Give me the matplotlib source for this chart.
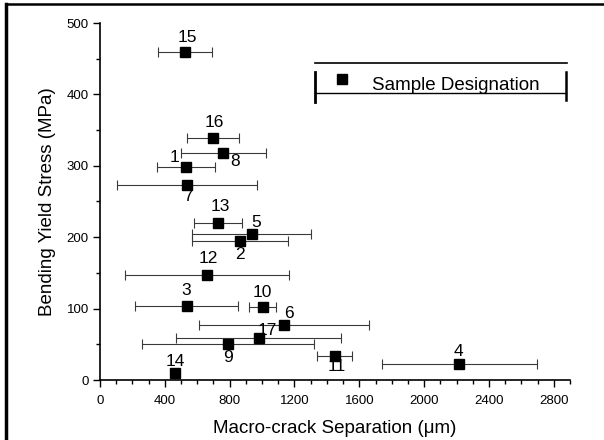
import matplotlib
matplotlib.use('Agg')
import matplotlib.pyplot as plt
from matplotlib.lines import Line2D
from matplotlib.ticker import MultipleLocator

plt.rcParams['font.family'] = ['Liberation Sans', 'DejaVu Sans']

# Sample data
samples = ['15', '16', '8', '1', '7', '13', '5', '2', '12', '3',
           '10', '6', '17', '9', '11', '4', '14']
separation = [524, 697, 762, 530, 537, 728, 935, 864, 660, 534,
              1003, 1135, 978, 790, 1447, 2218, 463]
sep_err = [167, 160, 262, 180, 430, 151, 367, 296, 506, 318,
           83, 525, 509, 530, 108, 478, 0]
stress = [459, 339, 318, 298, 273, 220, 204, 195, 147, 104,
          102, 77, 59, 50, 34, 22, 10]

# label offsets (pixels) from each marker
label_off = {'15': (2, 15), '16': (1, 15), '8': (12, -9), '1': (-11, 10),
             '7': (1, -11), '13': (2, 16), '5': (5, 12), '2': (0, -14),
             '12': (1, 17), '3': (0, 15), '10': (0, 15), '6': (5, 12),
             '17': (9, 7), '9': (0, -13), '11': (2, -11), '4': (-1, 13),
             '14': (0, 11)}

fig = plt.figure(figsize=(6.04, 4.40), dpi=100)
ax = fig.add_axes([100/604, 1 - 380/440, 470/604, 357/440])

for i, s in enumerate(samples):
    if sep_err[i] > 0:
        ax.errorbar(separation[i], stress[i], xerr=sep_err[i], fmt='none',
                    ecolor='#3a3a3a', elinewidth=0.8, capsize=3.5, capthick=0.8)
ax.plot(separation, stress, 's', color='black', markersize=7, zorder=3)

for i, s in enumerate(samples):
    ax.annotate(s, (separation[i], stress[i]), xytext=label_off[s],
                textcoords='offset pixels', ha='center', va='center',
                fontsize=12.5, color='black')

ax.set_xlim(0, 2900)
ax.set_ylim(0, 500)
ax.xaxis.set_major_locator(MultipleLocator(400))
ax.xaxis.set_minor_locator(MultipleLocator(100))
ax.yaxis.set_major_locator(MultipleLocator(100))
ax.yaxis.set_minor_locator(MultipleLocator(50))
ax.tick_params(which='major', direction='out', length=5, width=1, labelsize=9.5)
ax.tick_params(axis='x', which='major', pad=6)
ax.tick_params(axis='y', which='major', pad=3)
ax.tick_params(which='minor', direction='out', length=3, width=1)
ax.spines['top'].set_visible(False)
ax.spines['right'].set_visible(False)
ax.spines['left'].set_linewidth(1.2)
ax.spines['bottom'].set_linewidth(1.2)

ax.set_xlabel('Macro-crack Separation (μm)', fontsize=13.5, labelpad=9)
ax.set_ylabel('Bending Yield Stress (MPa)', fontsize=13.5, labelpad=8)

# legend box as scanned
tr = ax.transAxes
ax.add_line(Line2D([0.457, 0.994], [0.888, 0.888], transform=tr, color='black', lw=1.2, clip_on=False))
ax.add_line(Line2D([0.457, 0.457], [0.779, 0.863], transform=tr, color='black', lw=2, clip_on=False))
ax.add_line(Line2D([0.991, 0.991], [0.784, 0.863], transform=tr, color='black', lw=1.8, clip_on=False))
ax.add_line(Line2D([0.457, 0.991], [0.804, 0.804], transform=tr, color='black', lw=1, clip_on=False))
ax.plot([0.515], [0.843], 's', color='black', markersize=7, transform=tr, clip_on=False)
ax.text(0.579, 0.826, 'Sample Designation', transform=tr, fontsize=13.5,
        ha='left', va='center')

# outer frame edges
fig.add_artist(Line2D([6/604, 6/604], [0, 1 - 4/440], color='black', lw=2.5))
fig.add_artist(Line2D([6/604, 1], [1 - 4/440, 1 - 4/440], color='black', lw=1.8))

fig.savefig('out.png', dpi=100)
